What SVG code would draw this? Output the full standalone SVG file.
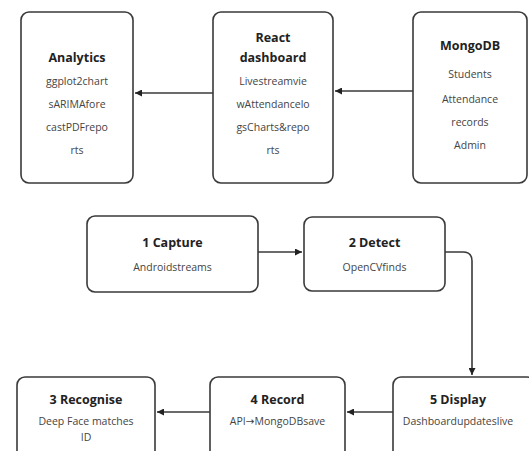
<svg xmlns="http://www.w3.org/2000/svg" width="529" height="451" viewBox="0 0 529 451">
<defs>
<style>
.box{fill:#fff;stroke:#3a3a3a;stroke-width:1.6}
.t{font-family:"Open Sans","Noto Sans",sans-serif;font-weight:bold;font-size:12.5px;fill:#222;text-anchor:middle}
.b{font-family:"Open Sans","Noto Sans",sans-serif;font-size:10.5px;fill:#444;text-anchor:middle}
.c{fill:none;stroke:#3a3a3a;stroke-width:1.6}
</style>
<marker id="ah" viewBox="0 0 10 10" refX="10" refY="5" markerWidth="7" markerHeight="7" orient="auto" markerUnits="userSpaceOnUse">
<path d="M0,0 L10,5 L0,10 z" fill="#222"/>
</marker>
</defs>
<rect width="529" height="451" fill="#fff"/>
<g id="connectors">
<path class="c" d="M413,91 H335" marker-end="url(#ah)"/>
<path class="c" d="M213,93 H135" marker-end="url(#ah)"/>
<path class="c" d="M258,252 H302" marker-end="url(#ah)"/>
<path class="c" d="M445,252 H463 Q472,252 472,261 V375" marker-end="url(#ah)"/>
<path class="c" d="M393,412 H347" marker-end="url(#ah)"/>
<path class="c" d="M210,412 H157" marker-end="url(#ah)"/>
</g>
<g id="analytics">
<rect class="box" x="21" y="12" width="112" height="171" rx="8"/>
<text class="t" x="77" y="62">Analytics</text>
<text class="b" x="77" y="85">ggplot2chart</text>
<text class="b" x="77" y="108">sARIMAfore</text>
<text class="b" x="77" y="131">castPDFrepo</text>
<text class="b" x="77" y="154">rts</text>
</g>
<g id="react">
<rect class="box" x="213" y="12" width="120" height="171" rx="8"/>
<text class="t" x="273" y="42">React</text>
<text class="t" x="273" y="62">dashboard</text>
<text class="b" x="273" y="85">Livestreamvie</text>
<text class="b" x="273" y="108">wAttendancelo</text>
<text class="b" x="273" y="131">gsCharts&amp;repo</text>
<text class="b" x="273" y="154">rts</text>
</g>
<g id="mongodb">
<rect class="box" x="413" y="12" width="114" height="171" rx="8"/>
<text class="t" x="470" y="50">MongoDB</text>
<text class="b" x="470" y="78">Students</text>
<text class="b" x="470" y="103">Attendance</text>
<text class="b" x="470" y="126">records</text>
<text class="b" x="470" y="149">Admin</text>
</g>
<g id="capture">
<rect class="box" x="87" y="216" width="171" height="76" rx="8"/>
<text class="t" x="172.5" y="247">1 Capture</text>
<text class="b" x="172.5" y="271">Androidstreams</text>
</g>
<g id="detect">
<rect class="box" x="304" y="217" width="141" height="74" rx="8"/>
<text class="t" x="374.5" y="247">2 Detect</text>
<text class="b" x="374.5" y="271">OpenCVfinds</text>
</g>
<g id="recognise">
<rect class="box" x="17" y="377" width="138" height="90" rx="8"/>
<text class="t" x="86" y="404">3 Recognise</text>
<text class="b" x="86" y="425">Deep Face matches</text>
<text class="b" x="86" y="441">ID</text>
</g>
<g id="record">
<rect class="box" x="210" y="377" width="135" height="90" rx="8"/>
<text class="t" x="277.5" y="404">4 Record</text>
<text class="b" x="277.5" y="425">API<tspan font-family="DejaVu Sans, sans-serif">→</tspan>MongoDBsave</text>
</g>
<g id="display">
<rect class="box" x="393" y="377" width="142" height="90" rx="8"/>
<text class="t" x="458" y="404">5 Display</text>
<text class="b" x="458" y="425">Dashboardupdateslive</text>
</g>
</svg>
